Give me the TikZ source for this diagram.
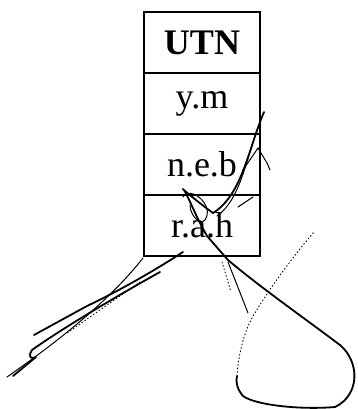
\documentclass[tikz,border=0pt]{standalone}
\usepackage{fontspec}
\setmainfont{Liberation Serif}
\begin{document}
\begin{tikzpicture}[x=1pt,y=-1pt,
  cell/.style={draw,line width=1.2pt,minimum width=116pt,minimum height=61pt,inner sep=0pt,font=\fontsize{36}{40}\selectfont},
  pen/.style={line width=1.8pt,line cap=round,line join=round},
  thinpen/.style={line width=1pt,line cap=round},
  dotpen/.style={line width=0.9pt,dash pattern=on 1pt off 2.5pt,line cap=round}]
\useasboundingbox (0,0) rectangle (357,409);
\node[cell] (utn) at (202,42.5) {\textbf{UTN}};
\node[cell] (ym) at (202,103.5) {y.m};
\node[cell] (neb) at (202,164.5) {n.e.b};
\node[cell] (rah) at (202,225.5) {r.a.h};
% right scribble strokes
\coordinate (t1) at (264,112);
\coordinate (t2) at (258,127);
\coordinate (b1) at (213,213);
\coordinate (b2) at (217,216);
\draw[pen] (t1) .. controls (248,150) and (242,195) .. (b1);
\draw[thinpen] (t2) .. controls (246,160) and (240,200) .. (b2);
\draw[pen] (b1) .. controls (195,200) and (178,185) .. (184,190)
  .. controls (190,200) and (195,215) .. (207,236)
  -- (228,260) .. controls (260,287) and (300,315) .. (340,345)
  .. controls (360,362) and (360,395) .. (335,407)
  .. controls (300,410) and (255,405) .. (243,396)
  .. controls (236,388) and (236,380) .. (237,376);
\draw[thinpen] (183,197) .. controls (190,185) and (215,205) .. (205,220)
  .. controls (200,226) and (190,215) .. (190,205);
\draw[dotpen] (237,376) .. controls (238,355) and (245,330) .. (252,318)
  .. controls (265,295) and (290,260) .. (314,232);
\draw[thinpen] (228,262) -- (248,313);
\draw[dotpen] (222,262) -- (231,292);
\draw[thinpen] (243,170) -- (258,148) -- (267,163) -- (270,170);
\draw[thinpen] (238,207) -- (253,197);
% left scribble strokes
\draw[thinpen] (143,258) .. controls (110,300) and (60,340) .. (7,377);
\draw[pen] (183,252) .. controls (140,280) and (100,300) .. (87,306) -- (34,335);
\draw[pen] (160,272) .. controls (110,300) and (60,330) .. (32,350)
  .. controls (28,356) and (30,360) .. (36,357) -- (13,376);
\draw[dotpen] (140,282) -- (67,333);
\end{tikzpicture}
\end{document}
